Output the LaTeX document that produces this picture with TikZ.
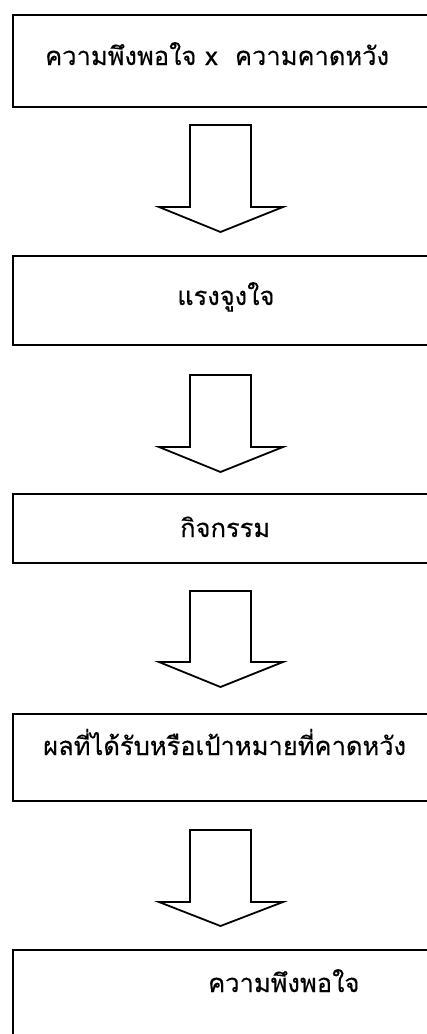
\documentclass[tikz,border=0pt]{standalone}
\usepackage{fontspec}
\newfontfamily\thaifont[Script=Thai,FakeBold=0.3]{Loma}
\begin{document}
\begin{tikzpicture}[x=1pt,y=-1pt,
  box/.style={draw=black, line width=1.8pt, rectangle, inner sep=0pt, anchor=north west},
  lbl/.style={anchor=base west, inner sep=0pt, font=\thaifont\fontsize{25.5}{30}\selectfont},
  barrow/.style={draw=black, line width=1.8pt, line join=miter, fill=white}]
\useasboundingbox (0,0) rectangle (427,1034);
\clip (0,0) rectangle (427,1034);
\node[box, minimum width=430pt, minimum height=92pt] (b1) at (12,14) {};
\node[box, minimum width=430pt, minimum height=89pt] (b2) at (12,255) {};
\node[box, minimum width=430pt, minimum height=69pt] (b3) at (12,493) {};
\node[box, minimum width=430pt, minimum height=87pt] (b4) at (12,713) {};
\node[box, minimum width=430pt, minimum height=110pt] (b5) at (12,949) {};
\node[lbl] (t1) at (45,65) {ความพึงพอใจ x\ \ ความคาดหวัง};
\node[lbl] (t2) at (177,305) {แรงจูงใจ};
\node[lbl] (t3) at (180,537) {กิจกรรม};
\node[lbl] (t4) at (43,755) {ผลที่ได้รับหรือเป้าหมายที่คาดหวัง};
\node[lbl] (t5) at (208,992) {ความพึงพอใจ};
\foreach \t/\s/\p in {125/207/232, 375/447/472, 591/662/687, 830/902/926}{
  \draw[barrow] (190,\t) -- (251,\t) -- (251,\s) -- (283,\s) -- (220.5,\p)
     -- (159,\s) -- (190,\s) -- cycle;
}
\end{tikzpicture}
\end{document}
